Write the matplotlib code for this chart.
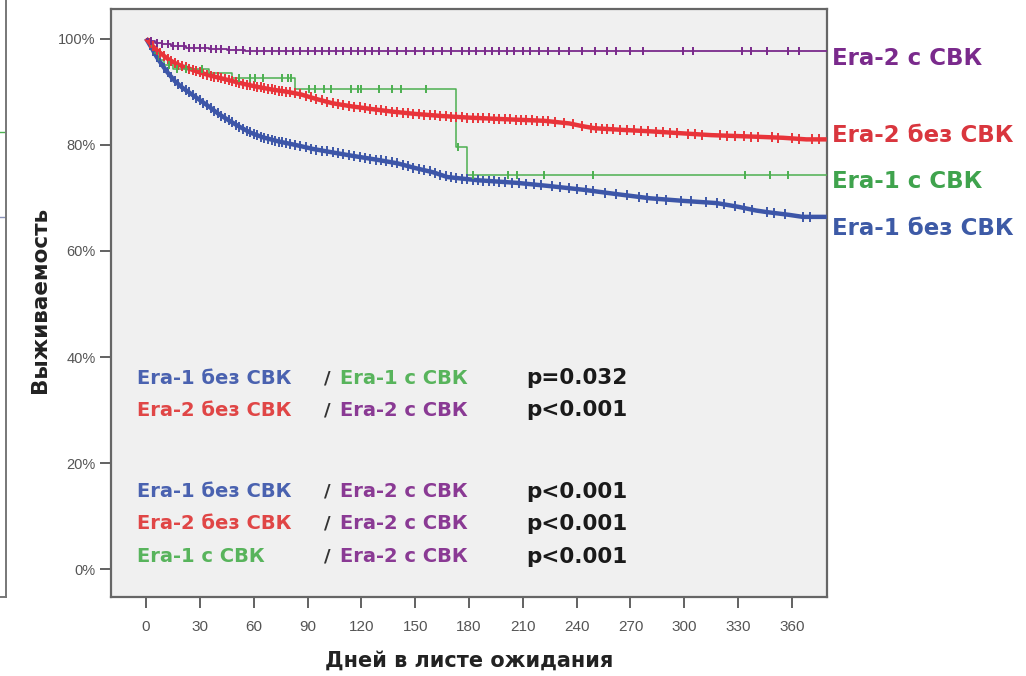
import numpy as np
import matplotlib
matplotlib.use("Agg")
import matplotlib.pyplot as plt
from matplotlib.transforms import blended_transform_factory

# survival curves: (day, survival %)
blue_days = [0, 3, 6, 9, 12, 16, 20, 25, 30, 35, 40, 46, 52, 58, 65, 74, 84, 93, 103, 115, 128, 140, 150, 160, 168, 185, 207, 225, 244, 262, 281, 300, 318, 330, 340, 346, 358, 366]
blue_surv = [100, 98.3, 96.5, 95.0, 93.6, 92.0, 90.8, 89.6, 88.4, 87.2, 85.9, 84.6, 83.4, 82.3, 81.4, 80.6, 79.9, 79.2, 78.6, 77.9, 77.2, 76.5, 75.6, 74.8, 73.9, 73.3, 72.8, 72.2, 71.5, 70.7, 69.9, 69.4, 69.0, 68.3, 67.6, 67.3, 66.8, 66.4]

red_days = [0, 2, 4, 6, 9, 12, 16, 20, 25, 30, 36, 42, 48, 55, 62, 70, 78, 86, 95, 104, 115, 126, 138, 150, 165, 180, 200, 222, 236, 243, 250, 265, 282, 296, 315, 340, 355, 368]
red_surv = [100, 99.2, 98.5, 97.8, 97.0, 96.2, 95.4, 94.8, 94.2, 93.6, 93.0, 92.5, 92.0, 91.4, 90.9, 90.4, 90.0, 89.5, 88.6, 87.8, 87.2, 86.7, 86.2, 85.8, 85.4, 85.1, 84.8, 84.5, 84.0, 83.5, 83.1, 82.8, 82.5, 82.2, 81.8, 81.5, 81.3, 81.0]

green_days = [0, 2, 4, 7, 10, 15, 35, 48, 83, 173, 179]
green_surv = [100, 98.6, 97.3, 96.0, 95.0, 94.2, 93.5, 92.6, 90.4, 79.5, 74.3]

purple_days = [0, 2, 5, 9, 14, 22, 35, 45, 55]
purple_surv = [100, 99.6, 99.2, 98.9, 98.6, 98.3, 98.1, 97.8, 97.6]

# censored observations (days)
blue_cens = [2, 4, 6, 8, 10, 12, 14, 16, 18, 20, 22, 24, 26, 28, 30, 32, 34, 36, 38, 40, 42, 44, 46, 48, 50, 52, 54, 56, 58, 60,
             62, 64, 66, 68, 70, 72, 74, 76, 78, 80, 83, 86, 89, 92, 95, 98, 101, 104, 107, 110, 113, 116, 119, 122, 125, 128,
             131, 134, 137, 140, 143, 146, 149, 152, 155, 158, 161, 164, 167, 170, 173, 176, 179, 182, 185, 188, 191, 194, 197,
             200, 204, 208, 212, 216, 220, 226, 231, 236, 240, 245, 249, 256, 262, 268, 275, 279, 285, 290, 298, 304, 312, 318,
             322, 328, 333, 338, 346, 350, 356, 366, 370]
red_cens = [2, 4, 6, 8, 10, 12, 14, 16, 18, 20, 22, 24, 26, 28, 30, 32, 34, 36, 38, 40, 42, 44, 46, 48, 50, 52, 54, 56, 58, 60,
            62, 64, 66, 68, 70, 72, 74, 76, 78, 80, 83, 86, 89, 92, 95, 98, 101, 104, 107, 110, 113, 116, 119, 122, 125, 128,
            131, 134, 137, 140, 143, 146, 149, 152, 155, 158, 161, 164, 167, 170, 173, 176, 179, 182, 185, 188, 191, 194, 197,
            200, 203, 206, 209, 212, 215, 218, 221, 224, 228, 233, 238, 243, 248, 251, 254, 257, 260, 264, 268, 272, 276, 280,
            284, 288, 292, 296, 302, 306, 310, 320, 324, 328, 333, 337, 341, 349, 352, 360, 364, 371, 375]
green_cens = [13, 17, 22, 31, 52, 58, 61, 65, 76, 79, 81, 91, 94, 99, 103, 114, 118, 120, 130, 137, 142, 156, 174,
              182, 202, 207, 222, 249, 334, 348, 358]
purple_cens = [3, 6, 9, 12, 15, 18, 21, 24, 27, 30, 33, 36, 39, 42, 46, 50, 54, 58, 62, 66, 70, 74, 78, 82, 86, 90, 94, 98,
               102, 106, 110, 114, 118, 122, 126, 130, 135, 140, 145, 150, 155, 160, 165, 170, 176, 180, 184, 189, 193, 197,
               201, 205, 210, 214, 219, 224, 230, 236, 243, 250, 257, 262, 270, 277, 299, 305, 332, 337, 346, 358, 364]

curve_labels = ["Era-2 с СВК", "Era-2 без СВК", "Era-1 с СВК", "Era-1 без СВК"]
label_y = [96.3, 81.8, 73.1, 64.3]

rows = [("Era-1 без СВК", "Era-1 с СВК", "p=0.032"),
        ("Era-2 без СВК", "Era-2 с СВК", "p<0.001"),
        ("Era-1 без СВК", "Era-2 с СВК", "p<0.001"),
        ("Era-2 без СВК", "Era-2 с СВК", "p<0.001"),
        ("Era-1 с СВК", "Era-2 с СВК", "p<0.001")]
row_y = [36.0, 30.0, 14.6, 8.6, 2.4]

x_ticks = [0, 30, 60, 90, 120, 150, 180, 210, 240, 270, 300, 330, 360]
y_ticks = [0, 20, 40, 60, 80, 100]

BLUE, RED, GREEN, PURPLE = "#3d56a8", "#e8343a", "#4cb050", "#7a2a8c"
txt_col = {"Era-1 без СВК": "#4a62b0", "Era-2 без СВК": "#e04646",
           "Era-1 с СВК": "#58b45c", "Era-2 с СВК": "#8a3a94"}
lab_col = {"Era-2 с СВК": PURPLE, "Era-2 без СВК": "#d9363e",
           "Era-1 с СВК": "#3fa34d", "Era-1 без СВК": "#3d5aa6"}

fig = plt.figure(figsize=(10.26, 6.76), dpi=100)
fig.patch.set_facecolor("white")

tick_font = ["Liberation Sans Narrow", "Liberation Sans", "DejaVu Sans"]

# cropped neighbour chart at the left edge
ax0 = fig.add_axes([-0.05, 0.1164, 0.0559, 0.8836])
ax0.set_xlim(0, 1)
ax0.set_ylim(-5.27, 107.2)
for s in ["top", "left"]:
    ax0.spines[s].set_visible(False)
for s in ["right", "bottom"]:
    ax0.spines[s].set_color("#777777")
    ax0.spines[s].set_linewidth(1.4)
ax0.plot([0, 1], [82.3, 82.3], color="#4cb050", lw=1.0)
ax0.plot([0, 1], [66.3, 66.3], color="#8a93b8", lw=1.0)
ax0.set_xticks([])
ax0.set_yticks([])
ax0.set_facecolor("white")

ax = fig.add_axes([0.1079, 0.1164, 0.6979, 0.8698])
ax.set_facecolor("#f0f0f0")


def surv_at(days, surv, t):
    i = np.searchsorted(days, t, side="right") - 1
    return np.asarray(surv)[i]


# (days, surv, censored, colour, linewidth, drawstyle, marker size)
series = [(blue_days, blue_surv, blue_cens, BLUE, 3.2, "default", 7),
          (red_days, red_surv, red_cens, RED, 3.2, "default", 7),
          (green_days, green_surv, green_cens, GREEN, 1.1, "steps-post", 6),
          (purple_days, purple_surv, purple_cens, PURPLE, 1.3, "steps-post", 6)]

xmax = 379.4
for days, surv, cens, col, lw, ds, ms in series:
    xs = list(days) + [xmax]
    ys = list(surv) + [surv[-1]]
    ax.plot(xs, ys, drawstyle=ds, color=col, lw=lw, zorder=3, clip_on=False,
            solid_joinstyle="round", solid_capstyle="butt")
    c = np.array(cens)
    if ds == "default":
        cy = np.interp(c, xs, ys)
    else:
        cy = surv_at(days, surv, c)
    ax.plot(c, cy, ls="none", marker="|", ms=ms, mew=1.4, color=col, zorder=4)

ax.set_xlim(-19.7, xmax)
ax.set_ylim(-5.27, 105.5)
ax.set_xticks(x_ticks)
ax.set_xticklabels([str(v) for v in x_ticks], family=tick_font, fontsize=11, color="#555555")
ax.set_yticks(y_ticks)
ax.set_yticklabels([f"{v}%" for v in y_ticks], family=tick_font, fontsize=10.5, color="#555555")
ax.tick_params(axis="both", direction="out", length=8, width=1.3, color="#555555")
ax.tick_params(axis="x", pad=8)
ax.tick_params(axis="y", pad=3)
for s in ax.spines.values():
    s.set_color("#666666")
    s.set_linewidth(1.6)

ax.set_xlabel("Дней в листе ожидания", fontsize=15, fontweight="bold", color="#222222", labelpad=12)
fig.text(0.039, 0.556, "Выживаемость", rotation=90, fontsize=15.5, fontweight="bold",
         color="#222222", ha="center", va="center")

# curve labels on the right
tr = blended_transform_factory(ax.transAxes, ax.transData)
for lab, yv in zip(curve_labels, label_y):
    ax.text(1.008, yv, lab, transform=tr, fontsize=16.5, fontweight="bold", color=lab_col[lab],
            ha="left", va="center", clip_on=False)

# comparison table inside the plot
for (a, b, p), yv in zip(rows, row_y):
    ax.text(-5, yv, a, fontsize=14, fontweight="bold", color=txt_col[a], ha="left", va="center")
    ax.text(101, yv, "/", fontsize=13, fontweight="bold", color="#333333", ha="center", va="center")
    ax.text(108, yv, b, fontsize=14, fontweight="bold", color=txt_col[b], ha="left", va="center")
    ax.text(212, yv, p, fontsize=15.5, fontweight="bold", color="#1a1a1a", ha="left", va="center")

fig.savefig("out.png", dpi=100)
